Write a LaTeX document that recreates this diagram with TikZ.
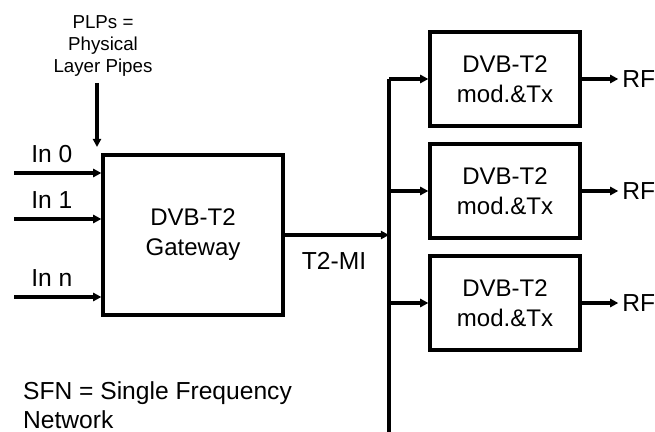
\documentclass[tikz,border=0pt]{standalone}
\usepackage{fontspec}
\setmainfont{Liberation Sans}
\usetikzlibrary{
    arrows.meta,
    positioning,
    calc
}
\tikzset{
    % --- Processing block (gateway, modulator) ---
    block/.style = {
        rectangle, draw, line width=2.8pt,
        align=center,
        font=\fontsize{20.5}{25.5}\selectfont
    },
    % --- Gateway block ---
    gw block/.style = {
        block, minimum width=5.4cm, minimum height=4.8cm
    },
    % --- Modulator / transmitter block ---
    tx block/.style = {
        block, minimum width=4.5cm, minimum height=2.82cm
    },
    % --- Port and signal labels ---
    port/.style = {
        font=\fontsize{21}{25}\selectfont
    },
    % --- Side note text ---
    note/.style = {
        font=\fontsize{16}{19}\selectfont, align=center
    },
    % --- Data flow arrow ---
    data arrow/.style = {
        -{Triangle[length=7pt, width=7pt]}, line width=2.8pt
    },
    % --- Plain wire ---
    wire/.style = {
        line width=2.8pt
    }
}

\begin{document}
\begin{tikzpicture}[x=0.03cm, y=-0.03cm]

\useasboundingbox (0,0) rectangle (655,432);

% ---------------------------------------------------------
% Gateway
% ---------------------------------------------------------
\node[gw block] (Gateway) at (193,235) {DVB-T2\\Gateway};

% ---------------------------------------------------------
% Input ports
% ---------------------------------------------------------
\coordinate (In0) at (14,173);
\coordinate (In1) at (14,219);
\coordinate (InN) at (14,297);
\draw[data arrow] (In0) -- (Gateway.west |- In0)
    node[port, midway, above=4pt, xshift=-5pt] {In 0};
\draw[data arrow] (In1) -- (Gateway.west |- In1)
    node[port, midway, above=4pt, xshift=-5pt] {In 1};
\draw[data arrow] (InN) -- (Gateway.west |- InN)
    node[port, midway, above=4pt, xshift=-5pt] {In n};

% ---------------------------------------------------------
% PLP note
% ---------------------------------------------------------
\node[note] (PLPs) at (103,46) {PLPs =\\Physical\\Layer Pipes};
\coordinate (PlpTip) at (97,147);
\draw[data arrow] ($(PLPs.south -| PlpTip) + (0,2)$) -- (PlpTip);

% ---------------------------------------------------------
% Modulators and transmitters
% ---------------------------------------------------------
\node[tx block] (Tx1) at (505,79)  {DVB-T2\\mod.\&Tx};
\node[tx block] (Tx2) at (505,191) {DVB-T2\\mod.\&Tx};
\node[tx block] (Tx3) at (505,303) {DVB-T2\\mod.\&Tx};

% ---------------------------------------------------------
% T2-MI distribution bus
% ---------------------------------------------------------
\coordinate (BusTop) at (389,79);
\coordinate (BusBot) at (389,432);
\draw[wire] (BusTop) -- (BusBot);
\draw[data arrow] (Gateway.east) -- (Gateway.east -| BusTop);
\node[port] (T2MI) at (334,261) {T2-MI};

\foreach \t in {Tx1, Tx2, Tx3} {
    \draw[data arrow] (BusTop |- \t.west) -- (\t.west);
}

% ---------------------------------------------------------
% RF outputs
% ---------------------------------------------------------
\foreach \t/\r in {Tx1/RF1, Tx2/RF2, Tx3/RF3} {
    \node[port, right=1.1cm of \t.east] (\r) {RF};
    \draw[data arrow] (\t.east) -- (\r.west);
}

% ---------------------------------------------------------
% SFN note
% ---------------------------------------------------------
\node[port, align=left, anchor=west] (SFN) at (19,405)
    {SFN = Single Frequency\\Network};

\end{tikzpicture}
\end{document}
